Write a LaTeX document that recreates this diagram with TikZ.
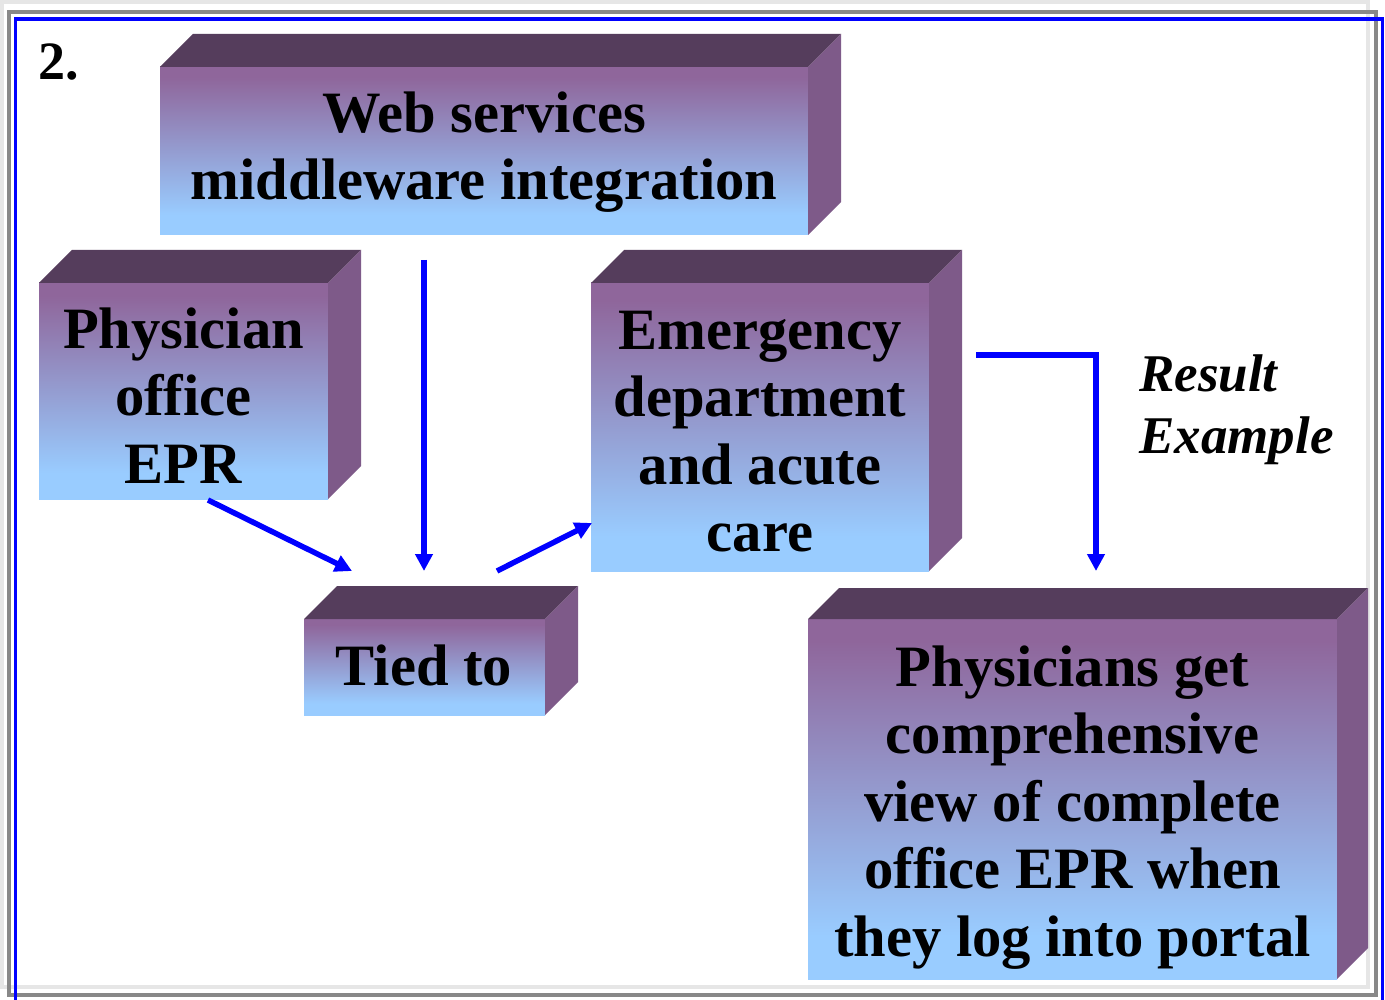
\documentclass[tikz,border=0pt]{standalone}
\usepackage{fontspec}
\setmainfont{Liberation Serif}
\usetikzlibrary{arrows.meta,fit,calc}
\definecolor{ppurple}{RGB}{143,102,155}
\definecolor{lblue}{RGB}{153,204,255}
\definecolor{topface}{RGB}{85,61,92}
\definecolor{sideface}{RGB}{126,90,137}
\definecolor{lgrey}{RGB}{230,230,230}
\definecolor{mgrey}{RGB}{136,136,136}
\definecolor{pblue}{RGB}{0,0,255}
\pgfdeclareverticalshading{boxshade}{100bp}{color(0bp)=(lblue); color(31bp)=(lblue); color(72bp)=(ppurple); color(100bp)=(ppurple)}
\newcommand\ls{\rule[-18.5pt]{0pt}{67.5pt}}
\newcommand\rs{\rule[-15pt]{0pt}{62pt}}
\newcommand\mycube[6]{%
  \node[front, fit={(#2,#3) (#4,#5)}] (#1) {};
  \fill[topface] (#1.north west) -- ++(#6,-#6) -- ($(#1.north east)+(#6,-#6)$) -- (#1.north east) -- cycle;
  \fill[sideface] (#1.north east) -- ++(#6,-#6) -- ($(#1.south east)+(#6,-#6)$) -- (#1.south east) -- cycle;
}
\tikzset{
  front/.style={inner sep=0pt, outer sep=0pt, draw=none, shade, shading=boxshade},
  lbl/.style={font=\bfseries\fontsize{58.6}{67.5}\selectfont, align=center, inner sep=0pt, anchor=north},
  arr/.style={draw=pblue, line width=5.5pt, -{Triangle[length=17pt,width=17pt]}},
}
\begin{document}
\begin{tikzpicture}[x=1pt,y=-1pt]
\useasboundingbox (0,0) rectangle (1385,1000);
\fill[white] (0,0) rectangle (1385,1000);
% frames
\draw[lgrey, line width=4pt] (2,2) rectangle (1368,987);
\draw[mgrey, line width=4pt] (8.5,12.5) rectangle (1376,995);
\draw[pblue, line width=3.5pt] (15.5,19) rectangle (1382.5,1006);
% cubes
\mycube{web}{160}{67}{808}{235}{33}
\mycube{phys}{39}{283}{328}{499}{33}
\mycube{emerg}{591}{283}{929}{571}{33}
\mycube{tied}{304}{619}{545}{715}{33}
\mycube{res}{808}{619}{1337}{979}{31}
% labels
\node[lbl] (webt) at (484,83) {\ls Web services\\\ls middleware integration};
\node[lbl] (physt) at (183.5,299) {\ls Physician\\\ls office\\\ls EPR};
\node[lbl] (emergt) at (760,300) {\ls Emergency\\\ls department\\\ls and acute\\\ls care};
\node[lbl] (tiedt) at (424,636) {\ls Tied to};
\node[lbl] (rest) at (1072.5,637) {\ls Physicians get\\\ls comprehensive\\\ls view of complete\\\ls office EPR when\\\ls they log into portal};
\node[font=\bfseries\fontsize{54}{60}\selectfont, inner sep=0pt, anchor=base west] (num) at (38,80) {2.};
\node[font=\bfseries\itshape\fontsize{53}{62}\selectfont, align=left, inner sep=0pt, anchor=north west] (resex) at (1139,344) {\rs Result\\\rs Example};
% arrows
\coordinate (a1s) at (208,500);
\coordinate (a1e) at (352,571);
\coordinate (a2s) at (424,260);
\coordinate (a2e) at (424,571);
\coordinate (a3s) at (497,571);
\coordinate (a3e) at (592,523);
\coordinate (a4s) at (976,355);
\coordinate (a4e) at (1096,571);
\draw[arr] (a1s) -- (a1e);
\draw[arr] (a2s) -- (a2e);
\draw[arr] (a3s) -- (a3e);
\draw[arr] (a4s) -| (a4e);
\end{tikzpicture}
\end{document}
